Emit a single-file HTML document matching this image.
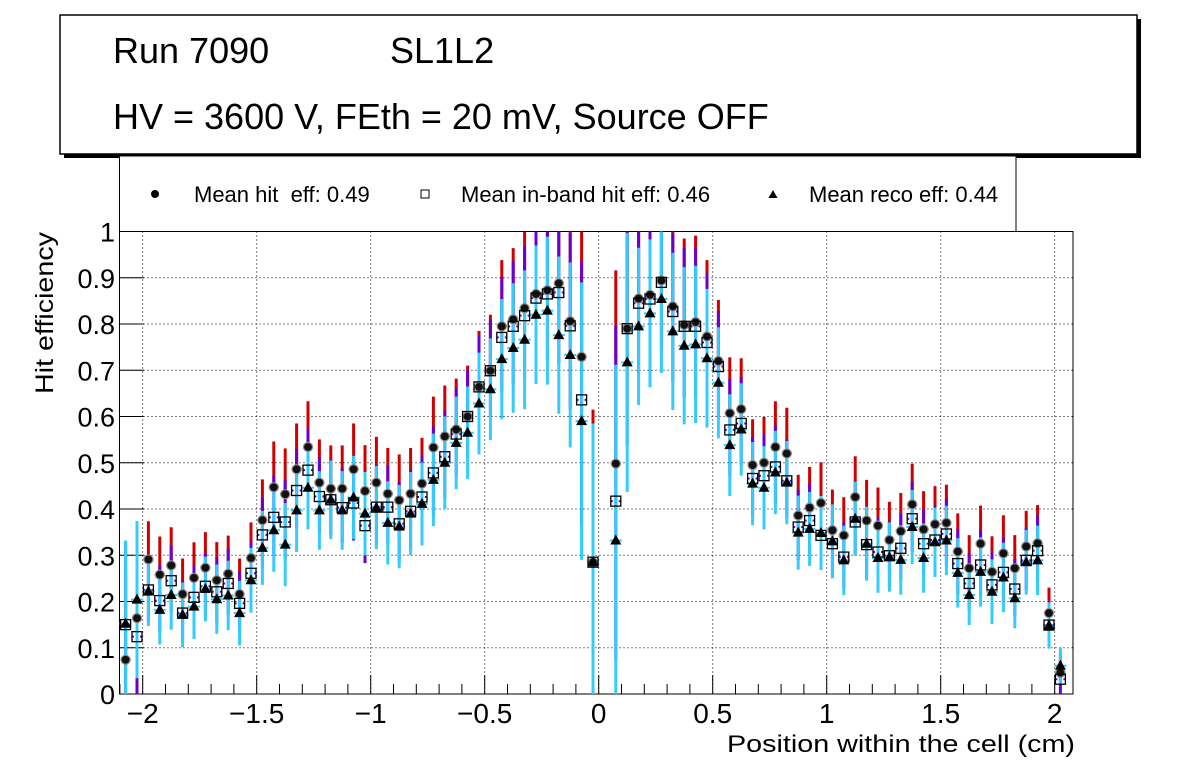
<!DOCTYPE html>
<html><head><meta charset="utf-8"><style>
html,body{margin:0;padding:0;background:#fff;}
svg{display:block;font-family:"Liberation Sans",Arial,sans-serif;}
</style></head><body>
<svg id="chart" width="1196" height="772" viewBox="0 0 1196 772" xmlns="http://www.w3.org/2000/svg">
  <rect x="0" y="0" width="1196" height="772" fill="#fff"/>
  <g>
    <rect x="64" y="19" width="1077" height="139" fill="#000"/>
    <rect x="60" y="15" width="1077" height="139" fill="#fff" stroke="#000" stroke-width="1.5"/>
    <text x="113" y="63" font-size="36">Run 7090</text>
    <text x="390" y="63" font-size="36">SL1L2</text>
    <text x="113" y="129" font-size="36">HV = 3600 V, FEth = 20 mV, Source OFF</text>
  </g>
  <g>
    <rect x="119.5" y="156" width="896.5" height="76" fill="#fff" stroke="#000" stroke-width="1"/>
    <g>
      <circle cx="155" cy="194" r="4" fill="#000"/>
      <text x="194" y="202" font-size="22" xml:space="preserve">Mean hit  eff: 0.49</text>
    </g>
    <g>
      <rect x="421" y="190" width="8" height="8" fill="#fff" stroke="#000" stroke-width="1"/>
      <text x="461" y="202" font-size="22">Mean in-band hit eff: 0.46</text>
    </g>
    <g>
      <path d="M773,190 L777.5,198 L768.5,198 Z" fill="#000"/>
      <text x="809" y="202" font-size="22">Mean reco eff: 0.44</text>
    </g>
  </g>
  <g id="plot"></g>
  <text x="1075" y="752" font-size="24" text-anchor="end" textLength="348" lengthAdjust="spacingAndGlyphs">Position within the cell (cm)</text>
  <text transform="translate(53,394) rotate(-90)" font-size="25" textLength="162" lengthAdjust="spacingAndGlyphs">Hit efficiency</text>
</svg>
<script>
const xStart = -2.075, xStep = 0.05;
const hitEff = [0.074,0.164,0.291,0.258,0.278,0.216,0.251,0.273,0.246,0.260,0.216,0.294,0.376,0.447,0.432,0.486,0.534,0.457,0.444,0.444,0.486,0.439,0.457,0.433,0.419,0.433,0.455,0.533,0.557,0.572,0.600,0.664,0.699,0.795,0.810,0.834,0.865,0.873,0.888,0.806,0.729,0.285,null,0.498,0.790,0.855,0.863,0.894,0.838,0.798,0.804,0.773,0.720,0.607,0.616,0.495,0.500,0.534,0.520,0.386,0.403,0.413,0.354,0.343,0.426,0.375,0.364,0.333,0.352,0.410,0.356,0.367,0.370,0.308,0.272,0.325,0.264,0.304,0.272,0.319,0.326,0.175,0.046];
const inBandEff = [0.150,0.124,0.225,0.202,0.245,0.175,0.209,0.233,0.221,0.239,0.196,0.261,0.344,0.382,0.372,0.440,0.484,0.427,0.420,0.403,0.413,0.364,0.404,0.404,0.368,0.395,0.426,0.478,0.513,0.562,0.600,0.664,0.699,0.771,0.795,0.818,0.856,0.865,0.868,0.796,0.636,0.285,null,0.417,0.790,0.845,0.854,0.890,0.827,0.795,0.795,0.760,0.708,0.571,0.585,0.466,0.472,0.491,0.461,0.361,0.375,0.343,0.325,0.296,0.372,0.323,0.307,0.299,0.315,0.379,0.325,0.333,0.346,0.282,0.239,0.279,0.236,0.263,0.227,0.289,0.310,0.149,0.032];
const recoEff = [0.152,0.204,0.222,0.182,0.214,0.171,0.189,0.227,0.205,0.213,0.175,0.246,0.316,0.354,0.323,0.397,0.446,0.397,0.420,0.397,0.425,0.390,0.403,0.370,0.362,0.390,0.411,0.463,0.500,0.543,0.565,0.628,0.659,0.724,0.748,0.766,0.820,0.829,0.776,0.733,0.590,0.285,null,0.332,0.717,0.795,0.823,0.854,0.784,0.753,0.756,0.726,0.673,0.538,0.572,0.455,0.446,0.479,0.457,0.349,0.357,0.348,0.330,0.289,0.379,0.325,0.294,0.296,0.290,0.361,0.294,0.328,0.332,0.262,0.214,0.264,0.221,0.252,0.207,0.285,0.289,0.148,0.061];
const errSize = [0.18,0.17,0.075,0.075,0.075,0.07,0.07,0.07,0.075,0.075,0.07,0.07,0.08,0.09,0.09,0.09,0.09,0.085,0.085,0.085,0.09,0.09,0.09,0.09,0.09,0.09,0.09,0.1,0.1,0.1,0.1,0.11,0.11,0.13,0.14,0.15,0.15,0.16,0.17,0.2,0.3,0.3,null,0.38,0.28,0.17,0.16,0.16,0.17,0.17,0.17,0.15,0.12,0.11,0.1,0.09,0.09,0.09,0.09,0.08,0.08,0.08,0.08,0.075,0.08,0.08,0.075,0.075,0.075,0.08,0.075,0.075,0.075,0.075,0.065,0.075,0.07,0.075,0.065,0.07,0.075,0.05,0.04];
const xTicks = [-2,-1.5,-1,-0.5,0,0.5,1,1.5,2];
const xTickLabels = ["\u22122","\u22121.5","\u22121","\u22120.5","0","0.5","1","1.5","2"];
const yTicks = [0,0.1,0.2,0.3,0.4,0.5,0.6,0.7,0.8,0.9,1];
const yTickLabels = ["0","0.1","0.2","0.3","0.4","0.5","0.6","0.7","0.8","0.9","1"];

const L=119.5, R=1073, T=231.5, B=694;
function X(v){return 598.7+228*v;}
function Y(v){return B-(B-T)*v;}
const NS="http://www.w3.org/2000/svg";
const plot=document.getElementById('plot');
function mk(tag,attrs,parent){const e=document.createElementNS(NS,tag);for(const k in attrs)e.setAttribute(k,attrs[k]);(parent||plot).appendChild(e);return e;}

const frame=mk('rect',{x:L,y:T,width:R-L,height:B-T,fill:'#fff',stroke:'#000','stroke-width':1});


yTicks.forEach(t=>{if(t<=0||t>=1)return;const g=mk('line',{x1:L,x2:R,y1:Y(t),y2:Y(t),stroke:'#000','stroke-width':1,'stroke-dasharray':'1,3'});

});
xTicks.forEach(t=>{const g=mk('line',{x1:X(t),x2:X(t),y1:T,y2:B,stroke:'#000','stroke-width':1,'stroke-dasharray':'1,3'});

});
for(let k=-21;k<=21;k++){const v=k/10;const px=X(v);if(px<L||px>R)continue;const major=(k%5===0);
const t=mk('line',{x1:px,x2:px,y1:B,y2:B-(major?19:10),stroke:'#000','stroke-width':1});

}
xTicks.forEach((t,i)=>{const tx=mk('text',{x:X(t),y:723,'font-size':28,'text-anchor':'middle'});tx.textContent=xTickLabels[i];

});
yTicks.forEach((t,i)=>{const tk=mk('line',{x1:L,x2:L+24,y1:Y(t),y2:Y(t),stroke:'#000','stroke-width':1});


const tx=mk('text',{x:115,y:Y(t)+10,'font-size':27,'text-anchor':'end'});tx.textContent=yTickLabels[i];

});

const series=mk('g',{});


function clampY(v){return Y(Math.max(0,Math.min(1,v)));}
for(let i=0;i<hitEff.length;i++){
  if(hitEff[i]===null)continue;
  const px=X(xStart+i*xStep), e=errSize[i];
  const r=mk('line',{x1:px,x2:px,y1:clampY(hitEff[i]),y2:clampY(hitEff[i]+e*1.1),stroke:'#d00000','stroke-width':3},series);
  
  
  const p=mk('line',{x1:px,x2:px,y1:clampY(inBandEff[i]-e*0.9),y2:clampY(inBandEff[i]+e),stroke:'#6a00d0','stroke-width':3},series);
  
  
  const c=mk('line',{x1:px,x2:px,y1:clampY(recoEff[i]-e),y2:clampY(recoEff[i]+e),stroke:'#33ccff','stroke-width':3},series);
  
  
  mk('line',{x1:px-5,x2:px+5,y1:Y(hitEff[i]),y2:Y(hitEff[i]),stroke:'#d00000','stroke-width':2},series);
  mk('line',{x1:px-5,x2:px+5,y1:Y(inBandEff[i]),y2:Y(inBandEff[i]),stroke:'#6a00d0','stroke-width':2,'stroke-dasharray':'2,6'},series);
  mk('line',{x1:px-6,x2:px+6,y1:Y(recoEff[i]),y2:Y(recoEff[i]),stroke:'#33ccff','stroke-width':2,'stroke-dasharray':'3,6'},series);
}
for(let i=0;i<hitEff.length;i++){
  if(hitEff[i]===null)continue;
  const px=X(xStart+i*xStep);
  const c=mk('circle',{cx:px,cy:Y(hitEff[i]),r:4.5,fill:'#111',stroke:'#888','stroke-width':1.2},series);
  
  
  const s=mk('rect',{x:px-5,y:Y(inBandEff[i])-5,width:10,height:10,fill:'none',stroke:'#000','stroke-width':1.3},series);
  
  
  const ty=Y(recoEff[i]);
  const t=mk('path',{d:`M${px},${ty-6} L${px+5.5},${ty+4} L${px-5.5},${ty+4} Z`,fill:'#000'},series);
  
  
}
</script>
</body></html>
